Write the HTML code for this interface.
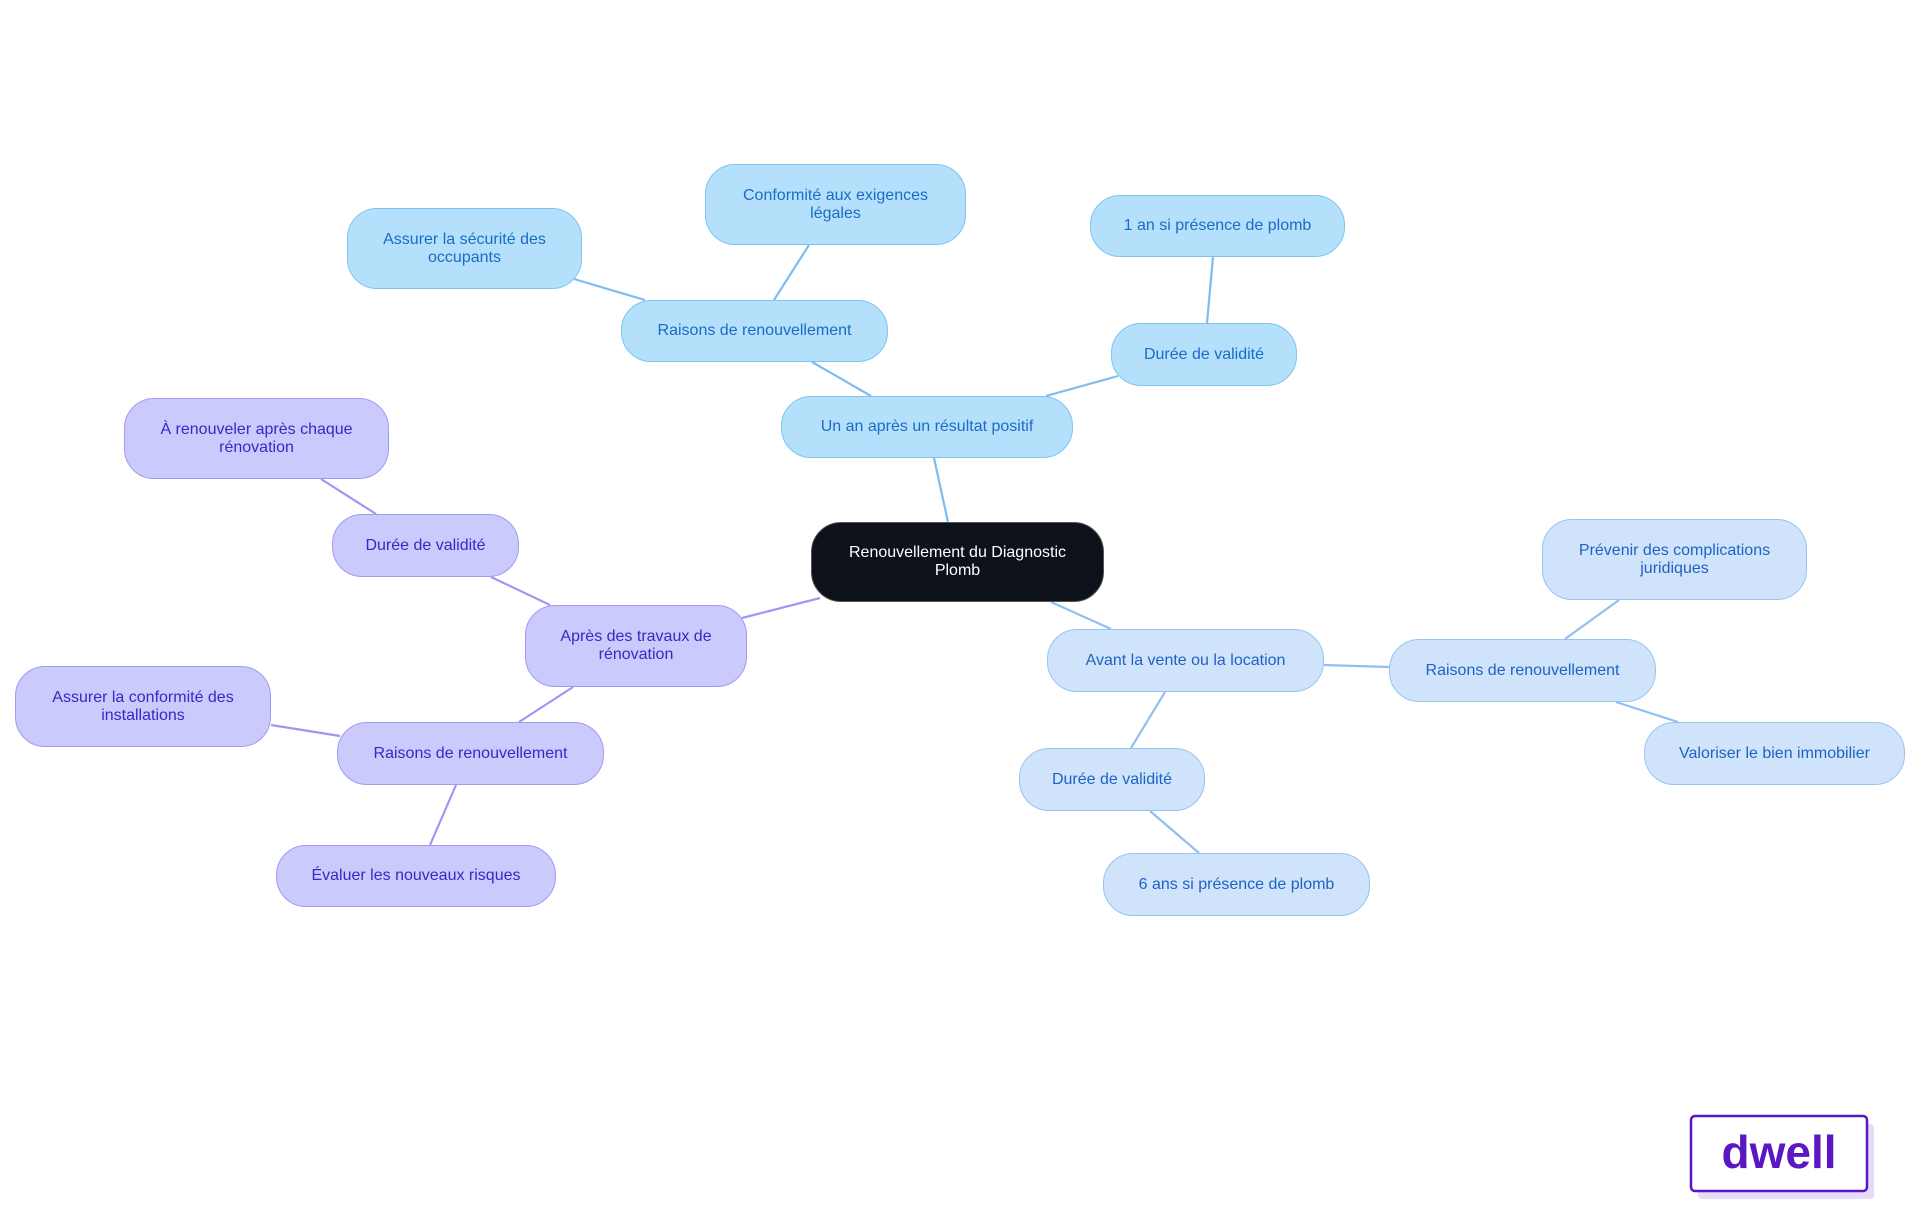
<!DOCTYPE html>
<html><head><meta charset="utf-8"><style>
body{margin:0;width:1920px;height:1215px;background:#fff;position:relative;overflow:hidden;font-family:"Liberation Sans",sans-serif}
.n{position:absolute;box-sizing:border-box;display:flex;align-items:center;justify-content:center;text-align:center;border-radius:30px;font-size:16px;line-height:18px;padding:0 14px;border:1.5px solid}
.b{background:#b5e0fc;border-color:#7fc3f2;color:#1a6cc4}
.l{background:#cfe4fb;border-color:#98c5f0;color:#1f62c4}
.p{background:#cbcafc;border-color:#a19bf0;color:#3b26c6}
.c{background:#0c111a;border-color:#555;color:#fff}
svg{position:absolute;left:0;top:0}
</style></head><body>
<svg width="1920" height="1215">
<g stroke-width="2.2" fill="none">
<g stroke="#7dbdf0">
<line x1="948" y1="522" x2="934" y2="458"/><line x1="871" y1="396" x2="812" y2="362"/><line x1="774" y1="300" x2="809" y2="245"/><line x1="645" y1="300" x2="574" y2="279"/><line x1="1046" y1="396" x2="1118" y2="376"/><line x1="1207" y1="323" x2="1213" y2="257"/></g>
<g stroke="#9d97f3">
<line x1="820" y1="598" x2="742" y2="618"/><line x1="550" y1="605" x2="491" y2="577"/><line x1="376" y1="514" x2="321" y2="479"/><line x1="573" y1="687" x2="519" y2="722"/><line x1="340" y1="736" x2="271" y2="725"/><line x1="456" y1="785" x2="430" y2="845"/></g>
<g stroke="#92bff0">
<line x1="1051" y1="602" x2="1111" y2="629"/><line x1="1324" y1="665" x2="1389" y2="667"/><line x1="1565" y1="639" x2="1619" y2="600"/><line x1="1616" y1="702" x2="1678" y2="722"/><line x1="1165" y1="692" x2="1131" y2="748"/><line x1="1150" y1="811" x2="1199" y2="853"/></g>
</g>
<rect x="1698" y="1124" width="176" height="75" rx="4" fill="#e6dcfa"/>
<rect x="1691" y="1116" width="176" height="75" rx="4" fill="#fff" stroke="#5b17c4" stroke-width="2.5"/>
<text x="1779" y="1168" text-anchor="middle" font-family="Liberation Sans,sans-serif" font-weight="bold" font-size="46" fill="#5b17c4">dwell</text>
</svg>
<div class="n c" style="left:811px;top:522px;width:293px;height:80px">Renouvellement du Diagnostic<br>Plomb</div>
<div class="n b" style="left:781px;top:396px;width:292px;height:62px">Un an après un résultat positif</div>
<div class="n b" style="left:621px;top:300px;width:267px;height:62px">Raisons de renouvellement</div>
<div class="n b" style="left:705px;top:164px;width:261px;height:81px">Conformité aux exigences<br>légales</div>
<div class="n b" style="left:347px;top:208px;width:235px;height:81px">Assurer la sécurité des<br>occupants</div>
<div class="n b" style="left:1111px;top:323px;width:186px;height:63px">Durée de validité</div>
<div class="n b" style="left:1090px;top:195px;width:255px;height:62px">1 an si présence de plomb</div>
<div class="n p" style="left:525px;top:605px;width:222px;height:82px">Après des travaux de<br>rénovation</div>
<div class="n p" style="left:332px;top:514px;width:187px;height:63px">Durée de validité</div>
<div class="n p" style="left:124px;top:398px;width:265px;height:81px">À renouveler après chaque<br>rénovation</div>
<div class="n p" style="left:337px;top:722px;width:267px;height:63px">Raisons de renouvellement</div>
<div class="n p" style="left:15px;top:666px;width:256px;height:81px">Assurer la conformité des<br>installations</div>
<div class="n p" style="left:276px;top:845px;width:280px;height:62px">Évaluer les nouveaux risques</div>
<div class="n l" style="left:1047px;top:629px;width:277px;height:63px">Avant la vente ou la location</div>
<div class="n l" style="left:1389px;top:639px;width:267px;height:63px">Raisons de renouvellement</div>
<div class="n l" style="left:1542px;top:519px;width:265px;height:81px">Prévenir des complications<br>juridiques</div>
<div class="n l" style="left:1644px;top:722px;width:261px;height:63px">Valoriser le bien immobilier</div>
<div class="n l" style="left:1019px;top:748px;width:186px;height:63px">Durée de validité</div>
<div class="n l" style="left:1103px;top:853px;width:267px;height:63px">6 ans si présence de plomb</div>
</body></html>
